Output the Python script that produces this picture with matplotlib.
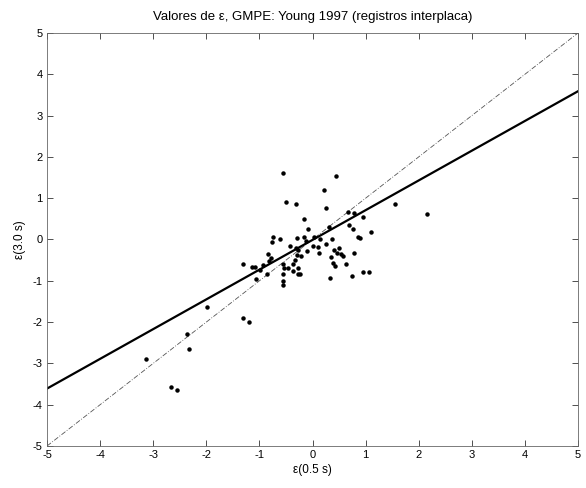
import matplotlib
matplotlib.use("Agg")
import matplotlib.pyplot as plt
import numpy as np

plt.rcParams['font.family'] = ['Liberation Sans', 'DejaVu Sans']
plt.rcParams['axes.unicode_minus'] = False

title = "Valores de ε, GMPE: Young 1997 (registros interplaca)"
xlabel = "ε(0.5 s)"
ylabel = "ε(3.0 s)"

eps_05 = [-0.55, -0.49, -0.31, 0.44, 0.22, 0.25, -0.16, 0.66, 0.78, 0.95,
          -0.08, 0.32, 0.69, 0.76,
          -0.75, -0.61, -0.76, -0.29, -0.42, -0.83, -1.30, -1.13, -1.09, -0.93,
          -0.79, -0.81, -0.99, -0.86, -1.06, -0.56, -0.54, -0.46, -0.37, -0.56,
          -0.55, -0.55, -0.37, -0.28, -0.27, -0.33, -0.29,
          1.11, -0.16, -0.12, 0.02, 0.15, 0.37, 0.25, 0.01, 0.11, 0.86, 0.89,
          -0.11, 0.13, -0.22, 0.41, 0.50, 0.47, 0.53, 0.58, 0.35, 0.79, 0.39,
          0.42, 0.64, -0.24, 0.95, 1.07, 0.74, 0.33, -0.31, -0.27,
          -1.99, -1.30, -1.20, -2.36, -2.32, -3.14, -2.67, -2.56, 1.55, 2.16]
eps_30 = [1.62, 0.90, 0.85, 1.54, 1.21, 0.76, 0.50, 0.67, 0.65, 0.54,
          0.25, 0.31, 0.35, 0.25,
          0.06, 0.01, -0.07, 0.04, -0.15, -0.36, -0.59, -0.67, -0.67, -0.62,
          -0.46, -0.52, -0.74, -0.84, -0.96, -0.59, -0.68, -0.68, -0.59, -0.84,
          -1.00, -1.10, -0.76, -0.68, -0.84, -0.50, -0.38,
          0.17, 0.05, -0.04, 0.06, 0.00, 0.01, -0.10, -0.15, -0.19, 0.05, 0.03,
          -0.28, -0.33, -0.39, -0.26, -0.21, -0.33, -0.36, -0.41, -0.42, -0.33, -0.58,
          -0.63, -0.60, -0.84, -0.78, -0.78, -0.88, -0.94, -0.21, -0.25,
          -1.63, -1.91, -1.99, -2.30, -2.65, -2.90, -3.56, -3.64, 0.86, 0.62]

fit_slope = 0.72
fit_intercept = -0.01
axis_limits = [-5, 5]
ticks = [-5, -4, -3, -2, -1, 0, 1, 2, 3, 4, 5]

fig = plt.figure(figsize=(5.86, 4.88), dpi=100)
ax = fig.add_axes([47/586, 1-446/488, (578-47)/586, (446-33)/488])

xx = np.array(axis_limits, dtype=float)
ax.plot(xx, xx, color='#555555', lw=0.6, ls=(0, (6, 2, 1, 2)))
ax.plot(xx, fit_slope*xx + fit_intercept, color='black', lw=1.6)
ax.plot(eps_05, eps_30, 'o', color='black', ms=2.2, mec='black')

ax.set_xlim(axis_limits)
ax.set_ylim(axis_limits)
ax.set_xticks(ticks)
ax.set_yticks(ticks)
ax.tick_params(direction='in', top=True, right=True, length=4, width=0.6,
               labelsize=8, pad=3, color='#333333')
for s in ax.spines.values():
    s.set_linewidth(0.6)
    s.set_color('#666666')
ax.set_title(title, fontsize=9.5, pad=9)
ax.set_xlabel(xlabel, fontsize=8.5, labelpad=3)
ax.set_ylabel(ylabel, fontsize=8.5, labelpad=5)

fig.savefig("out.png", dpi=100)
